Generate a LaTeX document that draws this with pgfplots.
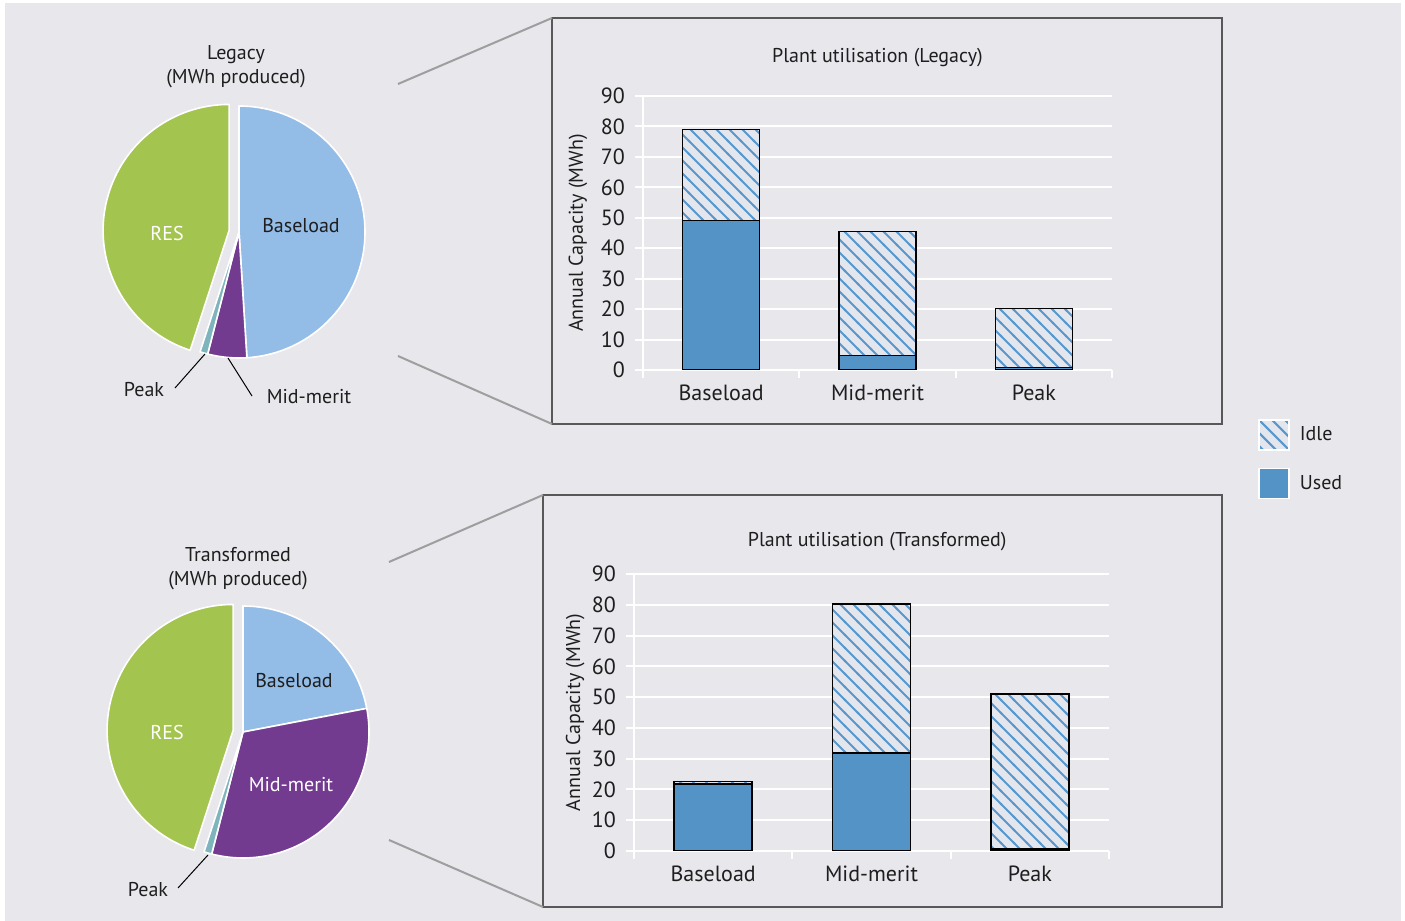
\documentclass[border=0pt]{standalone}
\usepackage{fontspec}
\setmainfont{PT Sans}
\usepackage{pgfplots}
\pgfplotsset{compat=1.18}
\usetikzlibrary{patterns}

\definecolor{bgcol}{RGB}{232,231,236}
\definecolor{hatchbg}{RGB}{228,230,238}
\definecolor{hatchblue}{RGB}{86,152,206}
\definecolor{usedblue}{RGB}{83,147,197}
\definecolor{pieBase}{RGB}{147,188,231}
\definecolor{pieRes}{RGB}{163,197,80}
\definecolor{pieMid}{RGB}{115,59,144}
\definecolor{piePeak}{RGB}{126,180,188}
\definecolor{txt}{RGB}{30,30,30}
\definecolor{boxcol}{RGB}{88,88,88}
\definecolor{conncol}{RGB}{158,158,158}

\pgfdeclarepatternformonly{hatchlines}{\pgfqpoint{-1pt}{-1pt}}{\pgfqpoint{7.5pt}{7.5pt}}{\pgfqpoint{6.5pt}{6.5pt}}{%
  \pgfsetlinewidth{1pt}%
  \pgfpathmoveto{\pgfqpoint{-0.5pt}{7pt}}%
  \pgfpathlineto{\pgfqpoint{7pt}{-0.5pt}}%
  \pgfusepath{stroke}}

\newcommand{\pieslices}[1]{%
  \gdef\cum{0}%
  \foreach \v/\c/\e in {#1}{%
    \pgfmathsetmacro{\sa}{90-\cum*3.6}%
    \pgfmathsetmacro{\ea}{90-(\cum+\v)*3.6}%
    \pgfmathsetmacro{\ma}{(\sa+\ea)/2}%
    \edef\temp{\noexpand\fill[\c, draw=white, line width=0.8pt, line join=round] ([shift={(\ma:\e pt)}]axis cs:0,0) -- ++(\sa:63pt) arc[start angle=\sa, end angle=\ea, radius=63pt] -- cycle;}%
    \temp
    \pgfmathsetmacro{\newcum}{\cum+\v}%
    \global\let\cum\newcum
  }%
}

\pgfplotsset{
  pieax/.style={scale only axis, width=126pt, height=126pt, xmin=-1, xmax=1, ymin=-1, ymax=1, hide axis, clip=false, anchor=center},
  barax/.style={
    scale only axis,
    ymin=0, ymax=90, ytick={0,10,...,90},
    xmin=-0.5, xmax=2.5,
    xtick={-0.5,0.5,1.5,2.5}, x tick label as interval,
    xticklabels={Baseload,Mid-merit,Peak},
    axis x line*=bottom, axis y line*=left,
    axis line style={white, line width=1pt},
    tick style={white, line width=1pt}, major tick length=4pt, tick align=outside,
    ymajorgrids, major grid style={white, line width=1pt},
    ticklabel style={font=\fontsize{11}{12}\selectfont, text=txt},
    yticklabel style={xshift=-1.5pt},
    /pgf/number format/assume math mode=true,
    ylabel={Annual Capacity (MWh)},
    label style={font=\fontsize{10}{12}\selectfont, text=txt},
    title style={font=\fontsize{10}{12}\selectfont, text=txt, anchor=center},
  },
  totalbar/.style={ybar, bar shift=0pt, fill=hatchbg, draw=black, line width=0.75pt,
    legend image code/.code={%
      \path[fill=hatchbg, draw=none] (0pt,-7.5pt) rectangle (15pt,7.5pt);
      \begin{scope}
        \clip (0pt,-7.5pt) rectangle (15pt,7.5pt);
        \path[draw=hatchblue, fill=none, line width=1pt] (-13pt,7.5pt) -- (2pt,-7.5pt)
          (-6.5pt,7.5pt) -- (8.5pt,-7.5pt) (0pt,7.5pt) -- (15pt,-7.5pt)
          (6.5pt,7.5pt) -- (21.5pt,-7.5pt) (13pt,7.5pt) -- (28pt,-7.5pt);
      \end{scope}
      \path[draw=white, fill=none, line width=0.8pt] (0pt,-7.5pt) rectangle (15pt,7.5pt);}},
  hatchbar/.style={ybar, bar shift=0pt, pattern=hatchlines, pattern color=hatchblue, draw=black, line width=0.75pt, forget plot},
  usedbar/.style={ybar, bar shift=0pt, fill=usedblue, draw=black, line width=0.75pt,
    legend image code/.code={\path[fill=usedblue, draw=white, line width=0.8pt] (0pt,-7.5pt) rectangle (15pt,7.5pt);}},
}

\begin{document}
\begin{tikzpicture}[font=\fontsize{10}{12}\selectfont, text=txt]
% background
\fill[white] (0,0) rectangle (702.5pt,460.5pt);
\fill[bgcol] (2.5pt,0pt) rectangle (700.5pt,459pt);

% boxes
\draw[boxcol, line width=1pt] (276pt,248.5pt) rectangle (611pt,451.5pt);
\draw[boxcol, line width=1pt] (271.5pt,7pt) rectangle (611pt,213pt);
% connectors
\draw[conncol, line width=1pt] (199pt,418.5pt) -- (276pt,451.5pt);
\draw[conncol, line width=1pt] (199pt,282.5pt) -- (276pt,248.5pt);
\draw[conncol, line width=1pt] (194.5pt,179.5pt) -- (271.5pt,213pt);
\draw[conncol, line width=1pt] (194.5pt,40.5pt) -- (271.5pt,7pt);

% Legacy pie (shares of MWh produced, %)
\begin{axis}[pieax, at={(119.5pt,344.5pt)}]
\pieslices{49/pieBase/0, 5/pieMid/0, 1/piePeak/0, 45/pieRes/5}
\end{axis}
% Transformed pie
\begin{axis}[pieax, at={(121.5pt,94.5pt)}]
\pieslices{22/pieBase/0, 32/pieMid/0, 1/piePeak/0, 45/pieRes/5}
\end{axis}

% pie labels
\node[align=center] at (118pt,427pt) {Legacy\\(MWh produced)};
\node at (150.5pt,347.5pt) {Baseload};
\node[text=white] at (83.5pt,343.5pt) {RES};
\node at (72pt,265.5pt) {Peak};
\draw[black, line width=0.5pt] (87.5pt,266.5pt) -- (102.5pt,283.5pt);
\node at (154.5pt,262pt) {Mid-merit};
\draw[black, line width=0.5pt] (126pt,262.5pt) -- (114pt,281.5pt);

\node[align=center] at (119pt,176pt) {Transformed\\(MWh produced)};
\node at (147pt,120pt) {Baseload};
\node[text=white] at (83.5pt,94pt) {RES};
\node[text=white] at (145.5pt,68pt) {Mid-merit};
\node at (74pt,15.5pt) {Peak};
\draw[black, line width=0.5pt] (89pt,16.5pt) -- (104pt,33pt);

% Legacy bars: total capacity and used capacity (idle = total - used)
\begin{axis}[barax, at={(321.5pt,275.5pt)}, anchor=south west,
  width=234.5pt, height=137pt,
  title={Plant utilisation (Legacy)},
  title style={at={(axis description cs:0.5,1.095)}},
  ylabel style={at={(axis description cs:-0.1386,0.5)}, anchor=center},
  legend cell align=left,
  legend style={at={(axis description cs:1.311,-0.178)}, anchor=north west, draw=none, fill=none,
    row sep=8.5pt, column sep=3pt, font=\fontsize{10}{12}\selectfont, text=txt, inner sep=0pt},
]
\addplot[totalbar, bar width=38.5pt] coordinates {(0,79.0) (1,45.5) (2,20.2)};
\addlegendentry{Idle}
\addplot[hatchbar, bar width=38.5pt] coordinates {(0,79.0) (1,45.5) (2,20.2)};
\addplot[usedbar, bar width=38.5pt] coordinates {(0,49.1) (1,4.7) (2,0.9)};
\addlegendentry{Used}
\end{axis}

% Transformed bars
\begin{axis}[barax, at={(317pt,35pt)}, anchor=south west,
  width=237.5pt, height=138.5pt,
  title={Plant utilisation (Transformed)},
  title style={at={(axis description cs:0.512,1.075)}},
  ylabel style={at={(axis description cs:-0.124,0.5)}, anchor=center},
]
\addplot[totalbar, bar width=39pt] coordinates {(0,22.6) (1,80.3) (2,51.0)};
\addplot[hatchbar, bar width=39pt] coordinates {(0,22.6) (1,80.3) (2,51.0)};
\addplot[usedbar, bar width=39pt] coordinates {(0,21.8) (1,31.8) (2,0.7)};
\end{axis}

\pgfresetboundingbox
\path (0,0) rectangle (702.5pt,460.5pt);
\end{tikzpicture}
\end{document}
